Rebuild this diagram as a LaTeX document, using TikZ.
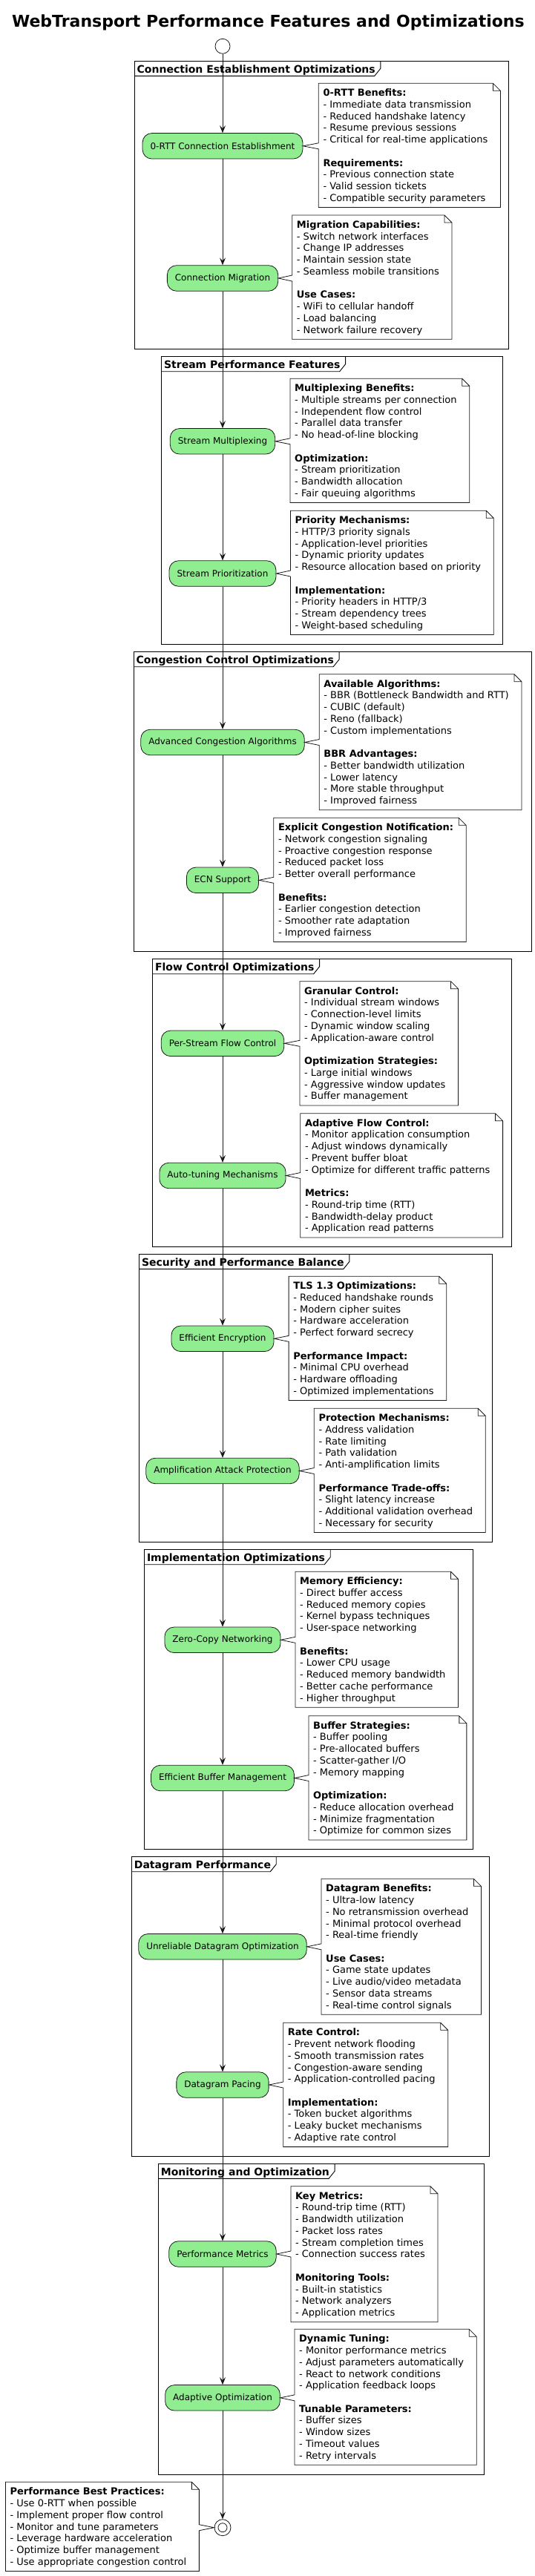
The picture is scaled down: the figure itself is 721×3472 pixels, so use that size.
\documentclass[tikz,border=0pt]{standalone}
\usepackage{fontspec}
\setmainfont{DejaVu Sans}
\usetikzlibrary{arrows.meta,calc}
\definecolor{actgreen}{HTML}{90EE90}
\definecolor{inkline}{HTML}{181818}
\newcommand\actfont{\fontsize{12bp}{14bp}\selectfont}
\newcommand\notefont{\fontsize{13bp}{15.73bp}\selectfont}
\tikzset{
  act/.style={draw=inkline, line width=0.8bp, fill=actgreen, rounded corners=12.5bp,
    minimum height=34.5bp, inner xsep=10.5bp, inner ysep=0pt, font=\actfont},
  notetext/.style={anchor=north west, inner sep=0pt, align=left, font=\notefont,
    execute at begin node=\strut, execute at end node=\strut},
  noteline/.style={draw=inkline, line width=0.8bp},
  frameline/.style={draw=black, line width=0.9bp},
  frametitle/.style={anchor=base west, inner sep=0pt,
    font=\fontsize{14bp}{17bp}\selectfont\bfseries},
  flow/.style={draw=inkline, line width=0.8bp,
    -{Stealth[length=10bp,width=8bp,inset=4bp]}},
}
% frame: name, left, top, right, bottom, title
\newcommand\partframe[6]{%
  \draw[frameline] (#2,#3) rectangle (#4,#5);
  \node[frametitle] (#1) at (#2+3.5,#3+15.8) {#6};
  \draw[frameline] let \p1=(#1.east), \p2=(#2,#3) in
    (\x2,\y2-20bp) -- (\x1-1bp,\y2-20bp) -- (\x1+7bp,\y2-10bp) -- (\x1+7bp,\y2);
}
% note: name, activity, left, top, text
\newcommand\actnote[5]{%
  \node[notetext] (#1) at (#3+6,#4+7.4) {#5};
  \draw[noteline] let \p1=(#1.north west), \p2=(#1.south east), \p3=(#2.east) in
    (\x1-6bp,\y1+7.4bp) -- (\x2+7bp,\y1+7.4bp) -- (\x2+17bp,\y1-2.6bp)
    -- (\x2+17bp,\y2-3.3bp) -- (\x1-6bp,\y2-3.3bp) -- (\x1-6bp,\y3-4bp)
    -- (\p3) -- (\x1-6bp,\y3+4bp) -- cycle
    (\x2+7bp,\y1+7.4bp) -- (\x2+7bp,\y1-2.6bp) -- (\x2+17bp,\y1-2.6bp);
}
\begin{document}
\begin{tikzpicture}[x=1bp,y=-1bp]
  \useasboundingbox (0,0) rectangle (721,3472);
  \node[anchor=base, inner sep=0pt, font=\fontsize{22bp}{26bp}\selectfont\bfseries] (title)
    at (361.4,36.7) {WebTransport Performance Features and Optimizations};

  \partframe{f1}{181}{82.3}{685}{470.3}{Connection Establishment Optimizations}
  \partframe{f2}{217.4}{480.7}{677.1}{868}{Stream Performance Features}
  \partframe{f3}{180}{878.7}{716.4}{1282.3}{Congestion Control Optimizations}
  \partframe{f4}{205.4}{1292.7}{689.1}{1680}{Flow Control Optimizations}
  \partframe{f5}{187.4}{1690.3}{663.3}{2078.3}{Security and Performance Balance}
  \partframe{f6}{194.3}{2088.7}{637.9}{2492.3}{Implementation Optimizations}
  \partframe{f7}{177.2}{2502.7}{659.1}{2906}{Datagram Performance}
  \partframe{f8}{213.2}{2916.3}{652.2}{3335.3}{Monitoring and Optimization}

  \node[draw=inkline, line width=0.8bp, circle, minimum size=20bp, inner sep=0pt] (start) at (300,62.3) {};
  \node[draw=inkline, line width=0.8bp, circle, minimum size=22bp, inner sep=0pt] (end) at (300,3406.7) {};
  \draw[inkline, line width=0.8bp] (end.center) circle[radius=6bp];

  \draw
    (300,196.8) node[act] (a1) {0-RTT Connection Establishment}
    (300,375) node[act] (a2) {Connection Migration}
    (300,594.8) node[act] (a3) {Stream Multiplexing}
    (300,773) node[act] (a4) {Stream Prioritization}
    (300,1000.5) node[act] (a5) {Advanced Congestion Algorithms}
    (300,1186.3) node[act] (a6) {ECN Support}
    (300,1406.3) node[act] (a7) {Per-Stream Flow Control}
    (300,1584.5) node[act] (a8) {Auto-tuning Mechanisms}
    (300,1804.3) node[act] (a9) {Efficient Encryption}
    (300,1982.5) node[act] (a10) {Amplification Attack Protection}
    (300,2210.3) node[act] (a11) {Zero-Copy Networking}
    (300,2396.5) node[act] (a12) {Efficient Buffer Management}
    (300,2623.8) node[act] (a13) {Unreliable Datagram Optimization}
    (300,2810) node[act] (a14) {Datagram Pacing}
    (300,3038) node[act] (a15) {Performance Metrics}
    (300,3231.8) node[act] (a16) {Adaptive Optimization};

  \begin{scope}[flow]
    \draw (start) to (a1);
    \draw (a1) to (a2);
    \draw (a2) to (a3);
    \draw (a3) to (a4);
    \draw (a4) to (a5);
    \draw (a5) to (a6);
    \draw (a6) to (a7);
    \draw (a7) to (a8);
    \draw (a8) to (a9);
    \draw (a9) to (a10);
    \draw (a10) to (a11);
    \draw (a11) to (a12);
    \draw (a12) to (a13);
    \draw (a13) to (a14);
    \draw (a14) to (a15);
    \draw (a15) to (a16);
    \draw (a16) to (end);
  \end{scope}

  \actnote{n1}{a1}{429.3}{112.3}{\textbf{0-RTT Benefits:}\\- Immediate data transmission\\- Reduced handshake latency\\- Resume previous sessions\\- Critical for real-time applications\\ \\\textbf{Requirements:}\\- Previous connection state\\- Valid session tickets\\- Compatible security parameters}
  \actnote{n2}{a2}{393.7}{290}{\textbf{Migration Capabilities:}\\- Switch network interfaces\\- Change IP addresses\\- Maintain session state\\- Seamless mobile transitions\\ \\\textbf{Use Cases:}\\- WiFi to cellular handoff\\- Load balancing\\- Network failure recovery}
  \actnote{n3}{a3}{391}{510.3}{\textbf{Multiplexing Benefits:}\\- Multiple streams per connection\\- Independent flow control\\- Parallel data transfer\\- No head-of-line blocking\\ \\\textbf{Optimization:}\\- Stream prioritization\\- Bandwidth allocation\\- Fair queuing algorithms}
  \actnote{n4}{a4}{391.4}{688.3}{\textbf{Priority Mechanisms:}\\- HTTP/3 priority signals\\- Application-level priorities\\- Dynamic priority updates\\- Resource allocation based on priority\\ \\\textbf{Implementation:}\\- Priority headers in HTTP/3\\- Stream dependency trees\\- Weight-based scheduling}
  \actnote{n5}{a5}{430.2}{908.7}{\textbf{Available Algorithms:}\\- BBR (Bottleneck Bandwidth and RTT)\\- CUBIC (default)\\- Reno (fallback)\\- Custom implementations\\ \\\textbf{BBR Advantages:}\\- Better bandwidth utilization\\- Lower latency\\- More stable throughput\\- Improved fairness}
  \actnote{n6}{a6}{368.8}{1102.3}{\textbf{Explicit Congestion Notification:}\\- Network congestion signaling\\- Proactive congestion response\\- Reduced packet loss\\- Better overall performance\\ \\\textbf{Benefits:}\\- Earlier congestion detection\\- Smoother rate adaptation\\- Improved fairness}
  \actnote{n7}{a7}{403.9}{1322.7}{\textbf{Granular Control:}\\- Individual stream windows\\- Connection-level limits\\- Dynamic window scaling\\- Application-aware control\\ \\\textbf{Optimization Strategies:}\\- Large initial windows\\- Aggressive window updates\\- Buffer management}
  \actnote{n8}{a8}{404.8}{1500.7}{\textbf{Adaptive Flow Control:}\\- Monitor application consumption\\- Adjust windows dynamically\\- Prevent buffer bloat\\- Optimize for different traffic patterns\\ \\\textbf{Metrics:}\\- Round-trip time (RTT)\\- Bandwidth-delay product\\- Application read patterns}
  \actnote{n9}{a9}{389.1}{1720.3}{\textbf{TLS 1.3 Optimizations:}\\- Reduced handshake rounds\\- Modern cipher suites\\- Hardware acceleration\\- Perfect forward secrecy\\ \\\textbf{Performance Impact:}\\- Minimal CPU overhead\\- Hardware offloading\\- Optimized implementations}
  \actnote{n10}{a10}{423.3}{1898.3}{\textbf{Protection Mechanisms:}\\- Address validation\\- Rate limiting\\- Path validation\\- Anti-amplification limits\\ \\\textbf{Performance Trade-offs:}\\- Slight latency increase\\- Additional validation overhead\\- Necessary for security}
  \actnote{n11}{a11}{397.9}{2118.3}{\textbf{Memory Efficiency:}\\- Direct buffer access\\- Reduced memory copies\\- Kernel bypass techniques\\- User-space networking\\ \\\textbf{Benefits:}\\- Lower CPU usage\\- Reduced memory bandwidth\\- Better cache performance\\- Higher throughput}
  \actnote{n12}{a12}{415.9}{2312.7}{\textbf{Buffer Strategies:}\\- Buffer pooling\\- Pre-allocated buffers\\- Scatter-gather I/O\\- Memory mapping\\ \\\textbf{Optimization:}\\- Reduce allocation overhead\\- Minimize fragmentation\\- Optimize for common sizes}
  \actnote{n13}{a13}{433}{2532.3}{\textbf{Datagram Benefits:}\\- Ultra-low latency\\- No retransmission overhead\\- Minimal protocol overhead\\- Real-time friendly\\ \\\textbf{Use Cases:}\\- Game state updates\\- Live audio/video metadata\\- Sensor data streams\\- Real-time control signals}
  \actnote{n14}{a14}{381.7}{2726.3}{\textbf{Rate Control:}\\- Prevent network flooding\\- Smooth transmission rates\\- Congestion-aware sending\\- Application-controlled pacing\\ \\\textbf{Implementation:}\\- Token bucket algorithms\\- Leaky bucket mechanisms\\- Adaptive rate control}
  \actnote{n15}{a15}{391.9}{2946.7}{\textbf{Key Metrics:}\\- Round-trip time (RTT)\\- Bandwidth utilization\\- Packet loss rates\\- Stream completion times\\- Connection success rates\\ \\\textbf{Monitoring Tools:}\\- Built-in statistics\\- Network analyzers\\- Application metrics}
  \actnote{n16}{a16}{397}{3139.3}{\textbf{Dynamic Tuning:}\\- Monitor performance metrics\\- Adjust parameters automatically\\- React to network conditions\\- Application feedback loops\\ \\\textbf{Tunable Parameters:}\\- Buffer sizes\\- Window sizes\\- Timeout values\\- Retry intervals}

  \node[notetext] (n17) at (13.4,3352.7) {\textbf{Performance Best Practices:}\\- Use 0-RTT when possible\\- Implement proper flow control\\- Monitor and tune parameters\\- Leverage hardware acceleration\\- Optimize buffer management\\- Use appropriate congestion control};
  \draw[noteline] let \p1=(n17.north west), \p2=(n17.south east), \p3=(end.west) in
    (\x1-6bp,\y1+7.4bp) -- (\x2+7bp,\y1+7.4bp) -- (\x2+17bp,\y1-2.6bp)
    -- (\x2+17bp,\y3+4bp) -- (\p3) -- (\x2+17bp,\y3-4bp)
    -- (\x2+17bp,\y2-3.3bp) -- (\x1-6bp,\y2-3.3bp) -- cycle
    (\x2+7bp,\y1+7.4bp) -- (\x2+7bp,\y1-2.6bp) -- (\x2+17bp,\y1-2.6bp);
\end{tikzpicture}
\end{document}
